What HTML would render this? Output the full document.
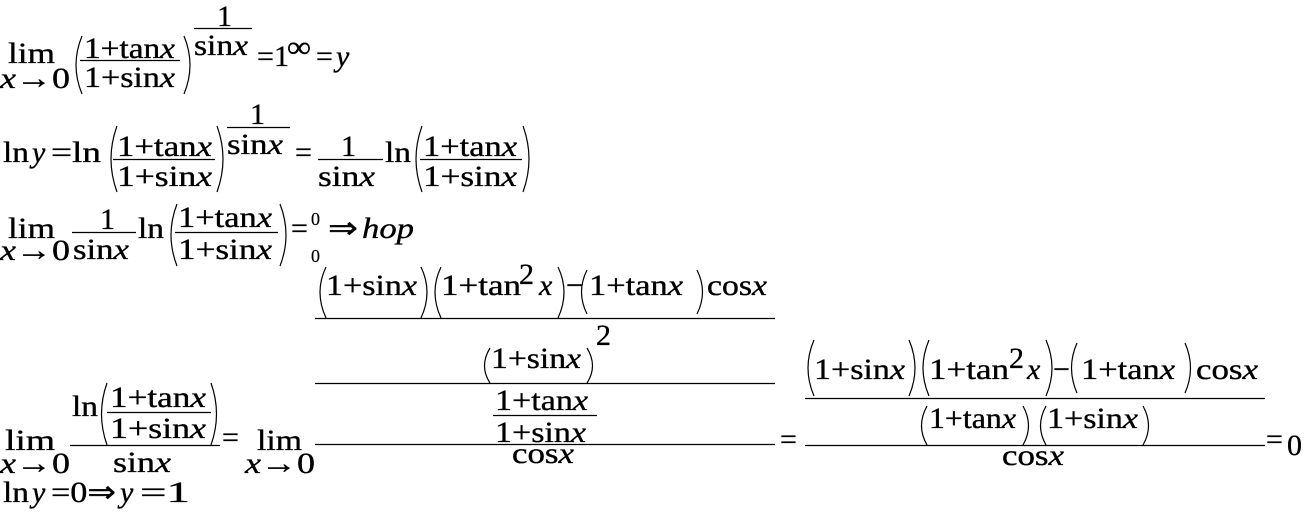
<!DOCTYPE html>
<html><head><meta charset="utf-8"><style>
html,body{margin:0;padding:0;background:#fff;}
svg{display:block;}
text{font-family:"Liberation Serif","Times New Roman",serif;font-size:30px;fill:#000;stroke:#000;stroke-width:0.35px;}
.i{font-style:italic;}
path{fill:none;stroke:#000;stroke-width:1.2;}
line{stroke:#000;stroke-width:1.3;}
</style></head><body>
<svg width="1309" height="516" viewBox="0 0 1309 516" xmlns="http://www.w3.org/2000/svg">
<!-- Line 1 -->
<text x="8" y="63" textLength="47" lengthAdjust="spacingAndGlyphs">lim</text>
<text x="0" y="88" textLength="70" lengthAdjust="spacingAndGlyphs"><tspan class="i">x</tspan>→0</text>
<path d="M82 36 Q70 65 82 94"/>
<text x="84" y="58" textLength="91" lengthAdjust="spacingAndGlyphs"><tspan>1+tan</tspan><tspan class="i">x</tspan></text>
<line x1="80" y1="60.5" x2="180" y2="60.5"/>
<text x="84" y="87" textLength="91" lengthAdjust="spacingAndGlyphs"><tspan>1+sin</tspan><tspan class="i">x</tspan></text>
<path d="M184 36 Q196 65 184 94"/>
<text x="217" y="26">1</text>
<line x1="194" y1="28.5" x2="252" y2="28.5"/>
<text x="194" y="55" textLength="54" lengthAdjust="spacingAndGlyphs"><tspan>sin</tspan><tspan class="i">x</tspan></text>
<text x="257" y="66">=</text><text x="274" y="66">1</text>
<text x="287" y="57" textLength="24" lengthAdjust="spacingAndGlyphs">∞</text>
<text x="316" y="66">=</text><text x="336" y="66" class="i">y</text>

<!-- Line 2 -->
<text x="3" y="162" textLength="26" lengthAdjust="spacingAndGlyphs">ln</text><text x="32" y="162" class="i">y</text>
<text x="51" y="162" textLength="50" lengthAdjust="spacingAndGlyphs">=ln</text>
<path d="M117 126 Q105 159 117 192"/>
<text x="117" y="156" textLength="95" lengthAdjust="spacingAndGlyphs"><tspan>1+tan</tspan><tspan class="i">x</tspan></text>
<line x1="113" y1="159.5" x2="215" y2="159.5"/>
<text x="117" y="186" textLength="95" lengthAdjust="spacingAndGlyphs"><tspan>1+sin</tspan><tspan class="i">x</tspan></text>
<path d="M217 126 Q229 159 217 192"/>
<text x="250" y="124">1</text>
<line x1="227" y1="127.5" x2="290" y2="127.5"/>
<text x="227" y="154" textLength="56" lengthAdjust="spacingAndGlyphs"><tspan>sin</tspan><tspan class="i">x</tspan></text>
<text x="295" y="162">=</text>
<text x="341" y="156">1</text>
<line x1="318" y1="159.5" x2="383" y2="159.5"/>
<text x="318" y="186" textLength="57" lengthAdjust="spacingAndGlyphs"><tspan>sin</tspan><tspan class="i">x</tspan></text>
<text x="385" y="162" textLength="26" lengthAdjust="spacingAndGlyphs">ln</text>
<path d="M422 126 Q410 159 422 192"/>
<text x="423" y="156" textLength="94" lengthAdjust="spacingAndGlyphs"><tspan>1+tan</tspan><tspan class="i">x</tspan></text>
<line x1="420" y1="159.5" x2="522" y2="159.5"/>
<text x="423" y="186" textLength="94" lengthAdjust="spacingAndGlyphs"><tspan>1+sin</tspan><tspan class="i">x</tspan></text>
<path d="M523 126 Q535 159 523 192"/>

<!-- Line 3 -->
<text x="8" y="238" textLength="47" lengthAdjust="spacingAndGlyphs">lim</text>
<text x="0" y="260" textLength="70" lengthAdjust="spacingAndGlyphs"><tspan class="i">x</tspan>→0</text>
<text x="100" y="229">1</text>
<line x1="72" y1="232.5" x2="136" y2="232.5"/>
<text x="73" y="259" textLength="56" lengthAdjust="spacingAndGlyphs"><tspan>sin</tspan><tspan class="i">x</tspan></text>
<text x="138" y="238" textLength="26" lengthAdjust="spacingAndGlyphs">ln</text>
<path d="M177 204 Q165 235 177 266"/>
<text x="178" y="227" textLength="94" lengthAdjust="spacingAndGlyphs"><tspan>1+tan</tspan><tspan class="i">x</tspan></text>
<line x1="175" y1="232.5" x2="278" y2="232.5"/>
<text x="178" y="259" textLength="94" lengthAdjust="spacingAndGlyphs"><tspan>1+sin</tspan><tspan class="i">x</tspan></text>
<path d="M280 204 Q292 235 280 266"/>
<text x="291" y="238">=</text>
<text x="311" y="225" style="font-size:18px;stroke-width:0.2px">0</text>
<text x="311" y="262" style="font-size:18px;stroke-width:0.2px">0</text>
<text x="328" y="238" textLength="30" lengthAdjust="spacingAndGlyphs">⇒</text>
<text x="362" y="238" class="i" textLength="52" lengthAdjust="spacingAndGlyphs">hop</text>

<!-- Bottom: first fraction -->
<text x="5" y="450" textLength="50" lengthAdjust="spacingAndGlyphs">lim</text>
<text x="0" y="473" textLength="70" lengthAdjust="spacingAndGlyphs"><tspan class="i">x</tspan>→0</text>
<text x="72" y="416" textLength="26" lengthAdjust="spacingAndGlyphs">ln</text>
<path d="M107 383 Q96 414 107 445"/>
<text x="110" y="407" textLength="96" lengthAdjust="spacingAndGlyphs"><tspan>1+tan</tspan><tspan class="i">x</tspan></text>
<line x1="107" y1="412.5" x2="211" y2="412.5"/>
<text x="110" y="438" textLength="96" lengthAdjust="spacingAndGlyphs"><tspan>1+sin</tspan><tspan class="i">x</tspan></text>
<path d="M211 383 Q222 414 211 445"/>
<line x1="70" y1="445.5" x2="220" y2="445.5"/>
<text x="113" y="472" textLength="58" lengthAdjust="spacingAndGlyphs"><tspan>sin</tspan><tspan class="i">x</tspan></text>
<text x="222" y="447">=</text>
<text x="257" y="450" textLength="45" lengthAdjust="spacingAndGlyphs">lim</text>
<text x="245" y="473" textLength="70" lengthAdjust="spacingAndGlyphs"><tspan class="i">x</tspan>→0</text>

<!-- Middle big fraction -->
<path d="M326 267 Q314 292 326 318"/>
<text x="326" y="295" textLength="91" lengthAdjust="spacingAndGlyphs"><tspan>1+sin</tspan><tspan class="i">x</tspan></text>
<path d="M421 267 Q433 292 421 318"/>
<path d="M441 267 Q429 292 441 318"/>
<text x="441" y="295" textLength="80" lengthAdjust="spacingAndGlyphs">1+tan</text>
<text x="519" y="284">2</text>
<text x="539" y="295" class="i">x</text>
<path d="M558 267 Q570 292 558 318"/>
<text x="566" y="295">−</text>
<path d="M587 270 Q576 292 587 314"/>
<text x="589" y="295" textLength="94" lengthAdjust="spacingAndGlyphs"><tspan>1+tan</tspan><tspan class="i">x</tspan></text>
<path d="M697 270 Q708 292 697 314"/>
<text x="707" y="295" textLength="60" lengthAdjust="spacingAndGlyphs"><tspan>cos</tspan><tspan class="i">x</tspan></text>
<line x1="315" y1="318.5" x2="775" y2="318.5"/>
<path d="M490 348 Q479 366 490 383"/>
<text x="491" y="368" textLength="90" lengthAdjust="spacingAndGlyphs"><tspan>1+sin</tspan><tspan class="i">x</tspan></text>
<path d="M587 348 Q598 366 587 383"/>
<text x="596" y="345">2</text>
<line x1="315" y1="383.5" x2="775" y2="383.5"/>
<text x="495" y="410" textLength="93" lengthAdjust="spacingAndGlyphs"><tspan>1+tan</tspan><tspan class="i">x</tspan></text>
<line x1="493" y1="415.5" x2="597" y2="415.5"/>
<text x="495" y="442" textLength="91" lengthAdjust="spacingAndGlyphs"><tspan>1+sin</tspan><tspan class="i">x</tspan></text>
<line x1="315" y1="444.5" x2="775" y2="444.5"/>
<text x="512" y="463" textLength="62" lengthAdjust="spacingAndGlyphs"><tspan>cos</tspan><tspan class="i">x</tspan></text>
<text x="780" y="449">=</text>

<!-- Right fraction -->
<path d="M814 340 Q802 368 814 396"/>
<text x="814" y="379" textLength="91" lengthAdjust="spacingAndGlyphs"><tspan>1+sin</tspan><tspan class="i">x</tspan></text>
<path d="M909 340 Q921 368 909 396"/>
<path d="M929 340 Q917 368 929 396"/>
<text x="929" y="379" textLength="80" lengthAdjust="spacingAndGlyphs">1+tan</text>
<text x="1009" y="368">2</text>
<text x="1027" y="379" class="i">x</text>
<path d="M1046 340 Q1058 368 1046 396"/>
<text x="1053" y="379">−</text>
<path d="M1077 343 Q1066 368 1077 393"/>
<text x="1081" y="379" textLength="94" lengthAdjust="spacingAndGlyphs"><tspan>1+tan</tspan><tspan class="i">x</tspan></text>
<path d="M1185 343 Q1196 368 1185 393"/>
<text x="1196" y="379" textLength="62" lengthAdjust="spacingAndGlyphs"><tspan>cos</tspan><tspan class="i">x</tspan></text>
<line x1="805" y1="398.5" x2="1265" y2="398.5"/>
<path d="M927 406 Q916 426 927 445"/>
<text x="929" y="428" textLength="87" lengthAdjust="spacingAndGlyphs"><tspan>1+tan</tspan><tspan class="i">x</tspan></text>
<path d="M1023 406 Q1034 426 1023 445"/>
<path d="M1046 406 Q1035 426 1046 445"/>
<text x="1047" y="428" textLength="91" lengthAdjust="spacingAndGlyphs"><tspan>1+sin</tspan><tspan class="i">x</tspan></text>
<path d="M1143 406 Q1154 426 1143 445"/>
<line x1="805" y1="445.5" x2="1265" y2="445.5"/>
<text x="1002" y="465" textLength="62" lengthAdjust="spacingAndGlyphs"><tspan>cos</tspan><tspan class="i">x</tspan></text>
<text x="1266" y="449">=</text>
<text x="1287" y="455">0</text>

<!-- Last line -->
<text x="3" y="502" textLength="26" lengthAdjust="spacingAndGlyphs">ln</text><text x="32" y="502" class="i">y</text>
<text x="51" y="502" textLength="65" lengthAdjust="spacingAndGlyphs">=0⇒</text><text x="120" y="502" class="i">y</text>
<text x="140" y="502" textLength="50" lengthAdjust="spacingAndGlyphs">=1</text>
</svg>
</body></html>
